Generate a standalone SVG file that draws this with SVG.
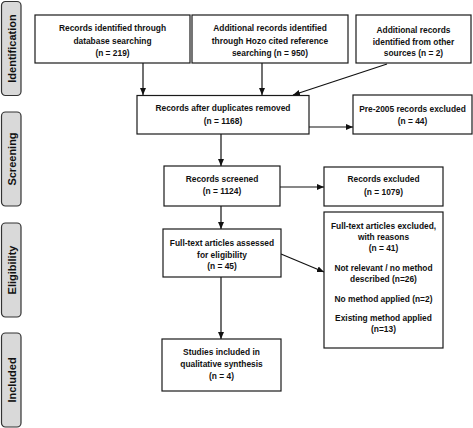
<svg xmlns="http://www.w3.org/2000/svg" width="473" height="428" viewBox="0 0 473 428">
<style>
.box{fill:#fff;stroke:#1a1a1a;stroke-width:1.2}
.side{fill:#d9d9d9;stroke:#333;stroke-width:1.2}
.t{font-family:"Liberation Sans",Arial,sans-serif;font-weight:bold;font-size:8.4px;fill:#111;text-anchor:middle}
.s{font-family:"Liberation Sans",Arial,sans-serif;font-weight:bold;font-size:11px;fill:#111;text-anchor:middle}
.c{stroke:#111;stroke-width:1.2;fill:none;marker-end:url(#ah)}
</style>
<defs>
<marker id="ah" markerWidth="8" markerHeight="8" refX="7" refY="4" orient="auto" markerUnits="userSpaceOnUse">
<path d="M0,1 L7,4 L0,7 Z" fill="#111"/>
</marker>
</defs>
<rect width="473" height="428" fill="#fff"/>
<g id="side-identification"><rect class="side" x="1.5" y="1.5" width="19.5" height="94" rx="4"/><text class="s" transform="translate(15.5,48.5) rotate(-90)">Identification</text></g>
<g id="side-screening"><rect class="side" x="1.5" y="112" width="19.5" height="94" rx="4"/><text class="s" transform="translate(15.5,159) rotate(-90)">Screening</text></g>
<g id="side-eligibility"><rect class="side" x="1.5" y="223" width="19.5" height="94" rx="4"/><text class="s" transform="translate(15.5,270) rotate(-90)">Eligibility</text></g>
<g id="side-included"><rect class="side" x="1.5" y="333" width="19.5" height="94" rx="4"/><text class="s" transform="translate(15.5,380) rotate(-90)">Included</text></g>

<g id="connectors">
<line class="c" x1="143" y1="63" x2="143" y2="95"/>
<line class="c" x1="262" y1="63" x2="262" y2="95"/>
<line class="c" x1="387" y1="64" x2="293" y2="95"/>
<line class="c" x1="309" y1="127" x2="353" y2="127"/>
<line class="c" x1="221" y1="134" x2="221" y2="166"/>
<line class="c" x1="280" y1="187" x2="324" y2="187"/>
<line class="c" x1="221" y1="206" x2="221" y2="229"/>
<line class="c" x1="281" y1="254" x2="324" y2="272"/>
<line class="c" x1="221" y1="277" x2="221" y2="339"/>
</g>

<g id="db"><rect class="box" x="35" y="15" width="155" height="48"/>
<text class="t" x="112.5" y="31">Records identified through</text>
<text class="t" x="112.5" y="44">database searching</text>
<text class="t" x="112.5" y="56">(n = 219)</text></g>
<g id="hozo"><rect class="box" x="192" y="15" width="156" height="48"/>
<text class="t" x="270" y="31">Additional records identified</text>
<text class="t" x="270" y="44">through Hozo cited reference</text>
<text class="t" x="270" y="56">searching  (n = 950)</text></g>
<g id="other"><rect class="box" x="356" y="15" width="115" height="48"/>
<text class="t" x="413.5" y="33">Additional records</text>
<text class="t" x="413.5" y="45">identified from other</text>
<text class="t" x="413.5" y="56">sources  (n = 2)</text></g>
<g id="dup"><rect class="box" x="137" y="95.5" width="172" height="38.5"/>
<text class="t" x="223" y="111">Records after duplicates removed</text>
<text class="t" x="223" y="124">(n = 1168)</text></g>
<g id="pre2005"><rect class="box" x="353" y="95" width="119" height="39"/>
<text class="t" x="412.5" y="112">Pre-2005 records excluded</text>
<text class="t" x="412.5" y="124">(n = 44)</text></g>
<g id="screened"><rect class="box" x="164" y="166" width="116" height="40"/>
<text class="t" x="222" y="182">Records screened</text>
<text class="t" x="222" y="194">(n = 1124)</text></g>
<g id="excluded"><rect class="box" x="324" y="167" width="119" height="39"/>
<text class="t" x="383.5" y="182">Records excluded</text>
<text class="t" x="383.5" y="195">(n = 1079)</text></g>
<g id="fulltext"><rect class="box" x="163" y="229" width="118" height="48"/>
<text class="t" x="222" y="246">Full-text articles assessed</text>
<text class="t" x="222" y="258">for eligibility</text>
<text class="t" x="222" y="269">(n = 45)</text></g>
<g id="ftexcluded"><rect class="box" x="324" y="212" width="119" height="136"/>
<text class="t" x="383.5" y="229">Full-text articles excluded,</text>
<text class="t" x="383.5" y="240">with reasons</text>
<text class="t" x="383.5" y="251">(n = 41)</text>
<text class="t" x="383.5" y="271">Not relevant / no method</text>
<text class="t" x="383.5" y="282">described (n=26)</text>
<text class="t" x="383.5" y="302">No method applied (n=2)</text>
<text class="t" x="383.5" y="321">Existing method applied</text>
<text class="t" x="383.5" y="332">(n=13)</text></g>
<g id="included"><rect class="box" x="162" y="339" width="119" height="52"/>
<text class="t" x="221.5" y="355">Studies included in</text>
<text class="t" x="221.5" y="367">qualitative synthesis</text>
<text class="t" x="221.5" y="379">(n = 4)</text></g>
</svg>
